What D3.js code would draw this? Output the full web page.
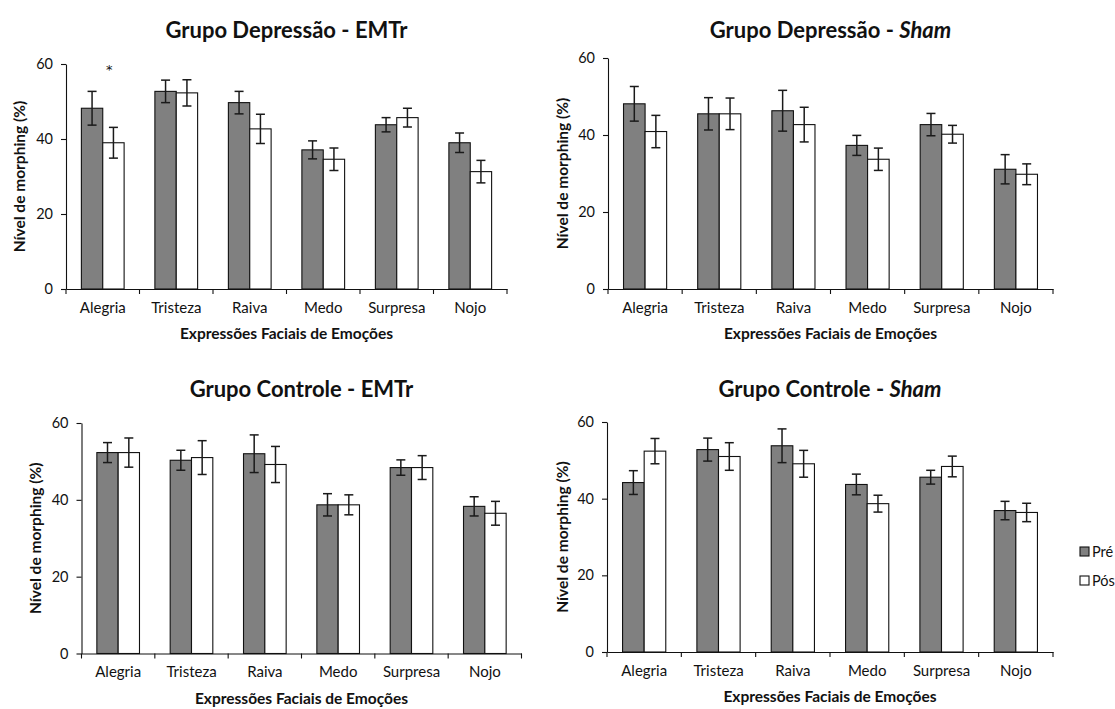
<!DOCTYPE html>
<html>
<head>
<meta charset="utf-8">
<script src="https://cdn.jsdelivr.net/npm/d3@7"></script>
<style>
  body { margin: 0; background: #fff; }
  text { font-family: Lato, "Open Sans", sans-serif; fill: #111; }
</style>
</head>
<body>
<svg id="chart" width="1115" height="709"></svg>
<script>
// categories and series
var emocoes = ["Alegria", "Tristeza", "Raiva", "Medo", "Surpresa", "Nojo"];
var series = ["Pré", "Pós"];
var yTicks = [0, 20, 40, 60];

// Grupo Depressão - EMTr
var depEmtrPre = [48.2, 52.7, 49.7, 37.1, 43.8, 39.0];
var depEmtrPreErr = [4.5, 3.0, 3.0, 2.4, 1.9, 2.6];
var depEmtrPos = [39.0, 52.3, 42.7, 34.6, 45.7, 31.3];
var depEmtrPosErr = [4.1, 3.5, 3.9, 3.0, 2.5, 3.0];

// Grupo Depressão - Sham
var depShamPre = [48.1, 45.5, 46.3, 37.3, 42.7, 31.1];
var depShamPreErr = [4.5, 4.2, 5.3, 2.6, 2.9, 3.8];
var depShamPos = [40.9, 45.5, 42.7, 33.7, 40.2, 29.8];
var depShamPosErr = [4.2, 4.1, 4.5, 2.9, 2.3, 2.7];

// Grupo Controle - EMTr
var ctrEmtrPre = [52.3, 50.3, 52.0, 38.7, 48.4, 38.3];
var ctrEmtrPreErr = [2.6, 2.6, 4.9, 2.9, 2.0, 2.5];
var ctrEmtrPos = [52.3, 51.0, 49.2, 38.7, 48.4, 36.5];
var ctrEmtrPosErr = [3.8, 4.4, 4.7, 2.6, 3.1, 3.1];

// Grupo Controle - Sham
var ctrShamPre = [44.2, 52.8, 53.8, 43.7, 45.6, 36.9];
var ctrShamPreErr = [3.1, 3.0, 4.4, 2.7, 1.8, 2.4];
var ctrShamPos = [52.4, 51.0, 49.1, 38.7, 48.4, 36.4];
var ctrShamPosErr = [3.3, 3.6, 3.5, 2.2, 2.7, 2.4];

// significance mark (Depressão - EMTr, Alegria)
var marcas = [{ emocao: "Alegria", valor: 59.3, texto: "*" }];

var colors = { "Pré": "#808080", "Pós": "#ffffff" };

var panels = [
  { titulo: ["Grupo Depressão - ", "EMTr"], italico: false,
    pre: depEmtrPre, preErr: depEmtrPreErr, pos: depEmtrPos, posErr: depEmtrPosErr,
    left: 66, right: 507, top: 64, bottom: 289, titleY: 38, yTitleX: 20, marcas: marcas },
  { titulo: ["Grupo Depressão - ", "Sham"], italico: true,
    pre: depShamPre, preErr: depShamPreErr, pos: depShamPos, posErr: depShamPosErr,
    left: 608, right: 1053, top: 58, bottom: 289, titleY: 38, yTitleX: 563, marcas: [] },
  { titulo: ["Grupo Controle - ", "EMTr"], italico: false,
    pre: ctrEmtrPre, preErr: ctrEmtrPreErr, pos: ctrEmtrPos, posErr: ctrEmtrPosErr,
    left: 81.5, right: 521.5, top: 423, bottom: 653.5, titleY: 397, yTitleX: 36, marcas: [] },
  { titulo: ["Grupo Controle - ", "Sham"], italico: true,
    pre: ctrShamPre, preErr: ctrShamPreErr, pos: ctrShamPos, posErr: ctrShamPosErr,
    left: 607, right: 1053, top: 422, bottom: 652, titleY: 397, yTitleX: 563, marcas: [] }
];

var svg = d3.select("#chart");

panels.forEach(function(p) {
  var g = svg.append("g");
  var x = d3.scaleBand().domain(emocoes).range([p.left, p.right]).padding(0);
  var xs = d3.scaleBand().domain(series).range([0, x.bandwidth()]).paddingInner(0).paddingOuter(0.72);
  var y = d3.scaleLinear().domain([0, 60]).range([p.bottom, p.top]);

  var rows = [];
  emocoes.forEach(function(e, i) {
    rows.push({ emocao: e, serie: "Pré", v: p.pre[i], err: p.preErr[i] });
    rows.push({ emocao: e, serie: "Pós", v: p.pos[i], err: p.posErr[i] });
  });

  // bars
  g.selectAll("rect.bar")
    .data(rows)
    .enter()
    .append("rect")
    .attr("class", "bar")
    .attr("x", function(d) { return x(d.emocao) + xs(d.serie); })
    .attr("y", function(d) { return y(d.v); })
    .attr("width", xs.bandwidth())
    .attr("height", function(d) { return y(0) - y(d.v); })
    .attr("fill", function(d) { return colors[d.serie]; })
    .attr("stroke", "#111")
    .attr("stroke-width", 1.1);

  // error bars
  var eb = g.selectAll("g.err")
    .data(rows)
    .enter()
    .append("g")
    .attr("class", "err")
    .attr("stroke", "#1a1a1a")
    .attr("stroke-width", 1.5);
  function cx(d) { return x(d.emocao) + xs(d.serie) + xs.bandwidth() / 2; }
  eb.append("line")
    .attr("x1", cx).attr("x2", cx)
    .attr("y1", function(d) { return y(d.v + d.err); })
    .attr("y2", function(d) { return y(d.v - d.err); });
  [1, -1].forEach(function(s) {
    eb.append("line")
      .attr("x1", function(d) { return cx(d) - 4.5; })
      .attr("x2", function(d) { return cx(d) + 4.5; })
      .attr("y1", function(d) { return y(d.v + s * d.err); })
      .attr("y2", function(d) { return y(d.v + s * d.err); });
  });

  // y axis
  var yAxis = g.append("g")
    .attr("transform", "translate(" + p.left + ",0)")
    .call(d3.axisLeft(y).tickValues(yTicks).tickSize(5).tickSizeOuter(0).tickPadding(8));
  yAxis.selectAll("path, line").attr("stroke", "#111").attr("stroke-width", 1.1);
  yAxis.selectAll("text").attr("font-size", "14.5px").attr("fill", "#111");

  // x axis: labels at band centres, ticks on band edges
  var xAxis = g.append("g")
    .attr("transform", "translate(0," + p.bottom + ")")
    .call(d3.axisBottom(x).tickSize(0).tickSizeOuter(0).tickPadding(13));
  xAxis.select("path").attr("stroke", "#111").attr("stroke-width", 1.1);
  xAxis.selectAll("text").attr("font-size", "15px").attr("fill", "#111");
  var edges = emocoes.map(function(e) { return x(e); }).concat([x.range()[1]]);
  g.selectAll("line.xtick")
    .data(edges)
    .enter()
    .append("line")
    .attr("class", "xtick")
    .attr("x1", function(d) { return d; }).attr("x2", function(d) { return d; })
    .attr("y1", p.bottom).attr("y2", p.bottom + 5)
    .attr("stroke", "#111").attr("stroke-width", 1.1);

  // titles
  var cxPlot = (p.left + p.right) / 2;
  var t = g.append("text")
    .attr("x", cxPlot).attr("y", p.titleY)
    .attr("text-anchor", "middle")
    .attr("font-size", "22px").attr("font-weight", "bold");
  t.append("tspan").text(p.titulo[0]);
  t.append("tspan").text(p.titulo[1]).attr("font-style", p.italico ? "italic" : "normal");

  g.append("text")
    .attr("x", cxPlot).attr("y", p.bottom + 50)
    .attr("text-anchor", "middle")
    .attr("font-size", "15.5px").attr("font-weight", "bold")
    .text("Expressões Faciais de Emoções");

  var cyPlot = (p.top + p.bottom) / 2;
  g.append("text")
    .attr("transform", "translate(" + (p.yTitleX + 5) + "," + cyPlot + ") rotate(-90)")
    .attr("text-anchor", "middle")
    .attr("font-size", "15.5px").attr("font-weight", "bold")
    .text("Nível de morphing (%)");

  // significance marks
  g.selectAll("text.marca")
    .data(p.marcas)
    .enter()
    .append("text")
    .attr("class", "marca")
    .attr("x", function(d) { return x(d.emocao) + x.bandwidth() * 0.59; })
    .attr("y", function(d) { return y(d.valor) + 7; })
    .attr("text-anchor", "middle")
    .style("font-family", "'DejaVu Sans', sans-serif")
    .style("font-size", "13px")
    .text(function(d) { return d.texto; });
});

// legend
var leg = svg.append("g").attr("transform", "translate(1080,547)");
series.forEach(function(s, i) {
  leg.append("rect")
    .attr("x", 0).attr("y", i * 29)
    .attr("width", 9).attr("height", 9)
    .attr("fill", colors[s]).attr("stroke", "#111").attr("stroke-width", 1.1);
  leg.append("text")
    .attr("x", 12).attr("y", i * 29 + 9.5)
    .attr("font-size", "14.5px")
    .text(s);
});
</script>
</body>
</html>
